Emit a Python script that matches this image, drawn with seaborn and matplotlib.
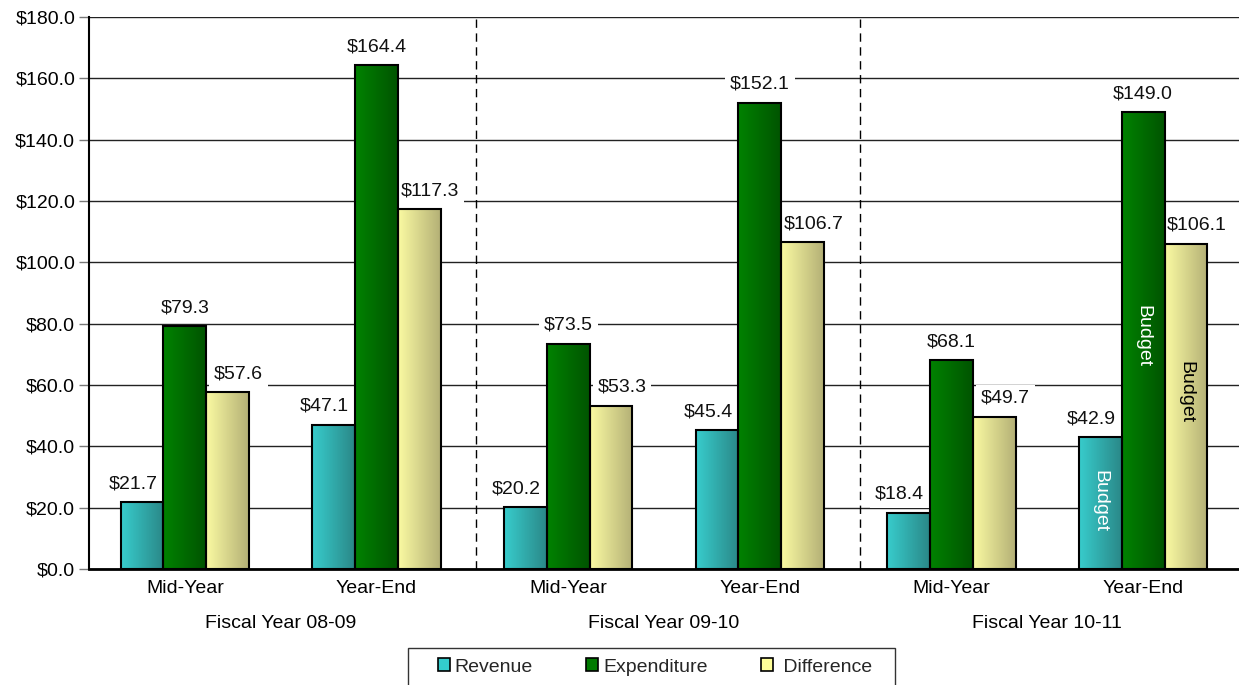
import numpy as np
import pandas as pd
import matplotlib
matplotlib.use("Agg")
import matplotlib.pyplot as plt
import matplotlib.transforms as mtransforms
from matplotlib.patches import Patch, Rectangle
from matplotlib.colors import to_rgb
import seaborn as sns

# ---- data -------------------------------------------------------------
periods = ["Mid-Year", "Year-End"] * 3
fiscal_years = ["Fiscal Year 08-09", "Fiscal Year 09-10", "Fiscal Year 10-11"]
revenue = [21.7, 47.1, 20.2, 45.4, 18.4, 42.9]
expenditure = [79.3, 164.4, 73.5, 152.1, 68.1, 149.0]
difference = [57.6, 117.3, 53.3, 106.7, 49.7, 106.1]
series_names = ["Revenue", "Expenditure", "Difference"]
legend_labels = ["Revenue", "Expenditure", " Difference"]
y_ticks = [0, 20, 40, 60, 80, 100, 120, 140, 160, 180]

slots = [f"{fy}|{p}" for fy in fiscal_years for p in ["Mid-Year", "Year-End"]]
df = pd.DataFrame({
    "slot": slots * 3,
    "series": np.repeat(series_names, len(slots)),
    "value": revenue + expenditure + difference,
})

# gradient end colours (left -> right) for each series
grad = {
    "Revenue": ("#38cccc", "#2a8888"),
    "Expenditure": ("#008200", "#005400"),
    "Difference": ("#fafaa2", "#b4b076"),
}
flat = {"Revenue": "#33cccc", "Expenditure": "#007a00", "Difference": "#ffff99"}
# horizontal nudge (pixels) of the value labels for each series
label_shift_px = {"Revenue": -9, "Expenditure": 0, "Difference": 11}

FS = 14
W, H = 1239, 685

sns.set_theme(style="white")
plt.rcParams["font.family"] = ["Liberation Sans", "DejaVu Sans"]

fig = plt.figure(figsize=(W / 100, H / 100), dpi=100)
ax = fig.add_axes([89 / W, 1 - 569 / H, 1 - 89 / W, (569 - 17) / H])

sns.barplot(data=df, x="slot", y="value", hue="series", order=slots,
            hue_order=series_names, palette=flat, width=0.67, saturation=1,
            edgecolor="black", linewidth=1.5, legend=False, ax=ax, zorder=3)

# horizontal gradient fill for every bar, clipped to the bar outline
for container, name in zip(ax.containers, series_names):
    c0, c1 = (np.array(to_rgb(c)) for c in grad[name])
    t = np.linspace(0, 1, 64)[None, :, None]
    img = c0 * (1 - t) + c1 * t
    for bar in container:
        x, w, h = bar.get_x(), bar.get_width(), bar.get_height()
        im = ax.imshow(img, extent=[x, x + w, 0, h], aspect="auto",
                       origin="lower", zorder=3.5, interpolation="bilinear")
        im.set_clip_path(bar)
        bar.set_facecolor("none")
        bar.set_zorder(4)

ax.set_xlim(-0.5, 5.5)
ax.set_ylim(0, 180)

# value labels above bars (white box hides the gridlines, sits under the bars)
for container, name in zip(ax.containers, series_names):
    for bar in container:
        h = bar.get_height()
        ax.annotate(f"${h:.1f}", (bar.get_x() + bar.get_width() / 2, h),
                    xytext=(label_shift_px[name] * 0.72, 7),
                    textcoords="offset points", ha="center", va="bottom",
                    fontsize=FS, color="#111111", zorder=3,
                    bbox=dict(facecolor="white", edgecolor="none", pad=3.5))

# "Budget" notes on the final Year-End bars
budget_pos = {"Revenue": (0.52, "white"), "Expenditure": (0.51, "white"),
              "Difference": (0.545, "black")}
for container, name in zip(ax.containers, series_names):
    bar = container[-1]
    frac, col = budget_pos[name]
    ax.text(bar.get_x() + bar.get_width() / 2, bar.get_height() * frac, "Budget",
            rotation=-90, ha="center", va="center", fontsize=FS, color=col,
            zorder=6)

# axes styling
ax.set_yticks(y_ticks)
ax.set_yticklabels([f"${v:.1f}" for v in y_ticks], fontsize=FS, color="black")
ax.yaxis.grid(True, color="#222222", linewidth=1.0, zorder=0)
ax.set_axisbelow(True)
ax.tick_params(axis="y", length=7, width=1, color="#777777", pad=3, left=True)
ax.tick_params(axis="x", length=0, pad=8)
ax.set_xticks(range(len(slots)))
ax.set_xticklabels(periods, fontsize=FS, color="black")
ax.set_xlabel("")
ax.set_ylabel("")
for s in ["top", "right"]:
    ax.spines[s].set_visible(False)
ax.spines["left"].set_color("black")
ax.spines["left"].set_linewidth(1.5)
ax.spines["bottom"].set_color("black")
ax.spines["bottom"].set_linewidth(2)

# dashed separators between fiscal years
for xs in [1.52, 3.52]:
    ax.axvline(xs, color="black", linestyle=(0, (6, 4)), linewidth=1, zorder=2)

# fiscal year labels under each pair of columns
trans = mtransforms.blended_transform_factory(ax.transData, fig.transFigure)
for i, fy in enumerate(fiscal_years):
    ax.text(2 * i + 0.5, 1 - 623 / H, fy, transform=trans, ha="center",
            va="center", fontsize=FS, color="black")

# legend box (runs off the bottom edge) and its entries
fig.patches.append(Rectangle((408 / W, -0.02), (895 - 408) / W, (0.02 + 1 - 648 / H),
                             transform=fig.transFigure, facecolor="white",
                             edgecolor="#333333", linewidth=1.0, zorder=1))
handles = [Patch(facecolor=flat[n], edgecolor="black", linewidth=1.2, label=lab)
           for n, lab in zip(series_names, legend_labels)]
leg = fig.legend(handles=handles, loc="center", ncol=3,
                 bbox_to_anchor=(655 / W, 1 - 667 / H), frameon=False,
                 fontsize=FS, handlelength=0.62, handleheight=0.62,
                 handletextpad=0.25, columnspacing=2.75, borderpad=0,
                 borderaxespad=0)
leg.set_zorder(2)

fig.savefig("out.png", dpi=100)
